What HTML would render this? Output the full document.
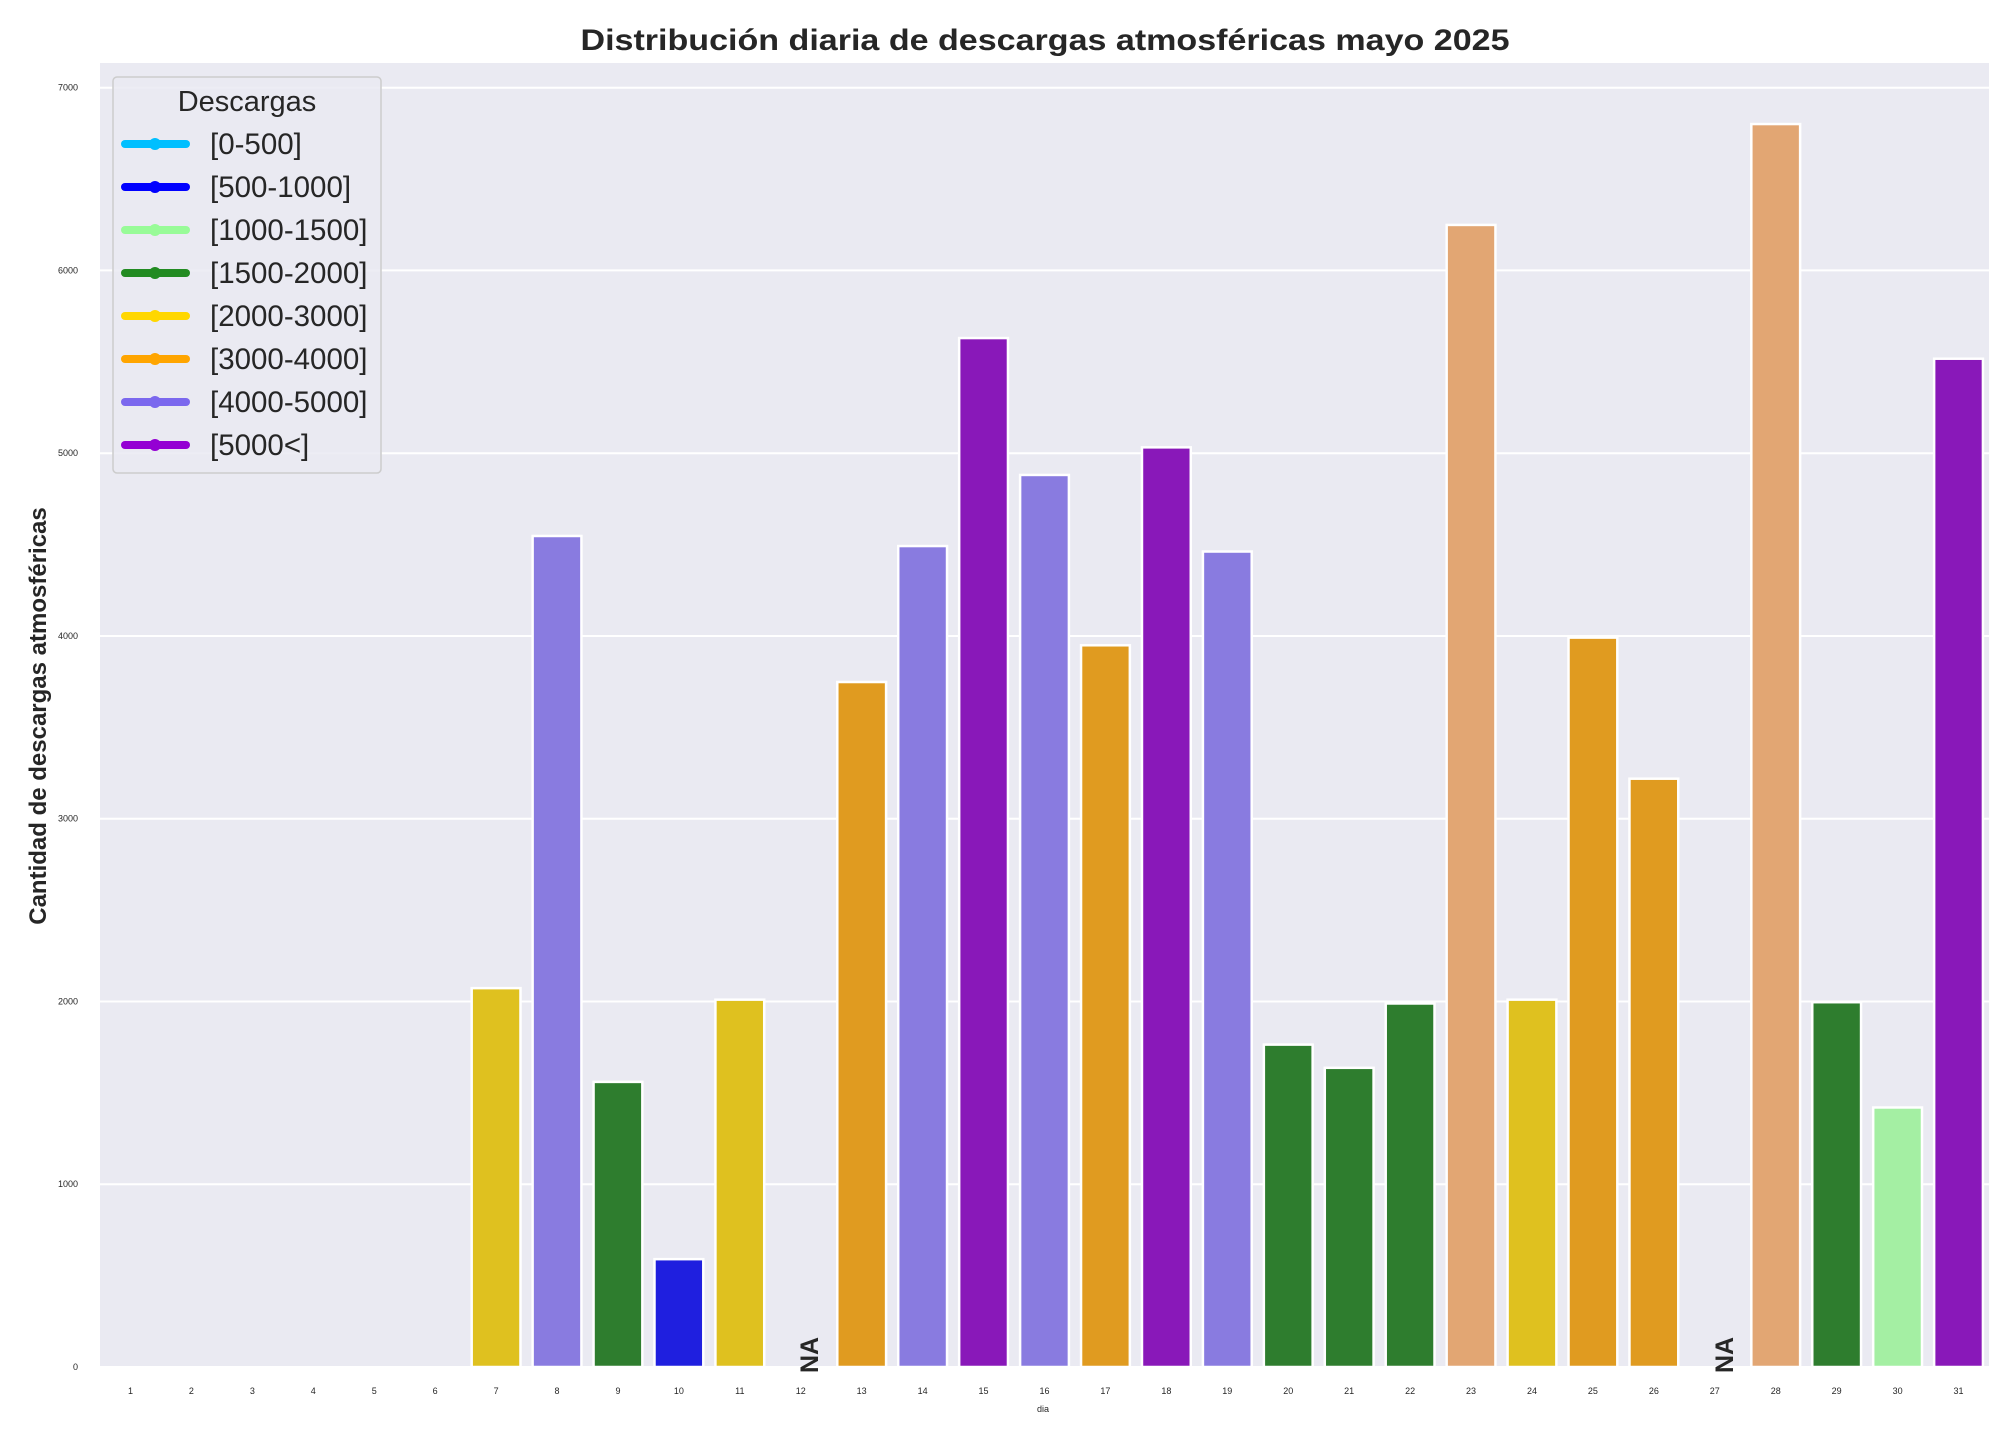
<!DOCTYPE html>
<html><head><meta charset="utf-8"><style>html,body{margin:0;padding:0;background:#fff}svg{display:block}</style></head>
<body>
<svg xmlns="http://www.w3.org/2000/svg" width="2016" height="1440" viewBox="0 0 2016 1440" font-family="Liberation Sans, Arial, sans-serif">
<rect width="2016" height="1440" fill="#fff"/>
<rect x="100" y="63" width="1889" height="1304" fill="#eaeaf2"/>
<g stroke="#fff" stroke-width="2">
<line x1="100" x2="1989" y1="1367" y2="1367"/>
<line x1="100" x2="1989" y1="1184.2" y2="1184.2"/>
<line x1="100" x2="1989" y1="1001.5" y2="1001.5"/>
<line x1="100" x2="1989" y1="818.7" y2="818.7"/>
<line x1="100" x2="1989" y1="636" y2="636"/>
<line x1="100" x2="1989" y1="453.2" y2="453.2"/>
<line x1="100" x2="1989" y1="270.4" y2="270.4"/>
<line x1="100" x2="1989" y1="87.7" y2="87.7"/>
</g>
<g font-size="9" fill="#262626" text-anchor="end">
<text x="78" y="1370">0</text>
<text x="78" y="1187">1000</text>
<text x="78" y="1004.5">2000</text>
<text x="78" y="821.7">3000</text>
<text x="78" y="639">4000</text>
<text x="78" y="456.2">5000</text>
<text x="78" y="273.4">6000</text>
<text x="78" y="90.7">7000</text>
</g>
<g id="bars" stroke="#fff" stroke-width="2.5"></g>
<script>
(function(){
var vals={7:[2073,'#dfc11f'],8:[4547,'#897be0'],9:[1560,'#2e7d2e'],10:[590,'#1f1fdf'],11:[2010,'#dfc11f'],13:[3748,'#e09b20'],14:[4492,'#897be0'],15:[5630,'#8918b9'],16:[4881,'#897be0'],17:[3949,'#e09b20'],18:[5032,'#8918b9'],19:[4462,'#897be0'],20:[1764,'#2e7d2e'],21:[1637,'#2e7d2e'],22:[1989,'#2e7d2e'],23:[6249,'#e2a673'],24:[2010,'#dfc11f'],25:[3991,'#e09b20'],26:[3219,'#e09b20'],28:[6801,'#e2a673'],29:[1996,'#2e7d2e'],30:[1420,'#a4efa3'],31:[5517,'#8918b9']};
var g=document.getElementById('bars'),ns='http://www.w3.org/2000/svg',svg=g.ownerSVGElement;
var step=1889/31;
for(var i=1;i<=31;i++){
 var cx=100+step*(i-0.5);
 if(vals[i]){var h=vals[i][0]*0.18276;var r=document.createElementNS(ns,'rect');
 r.setAttribute('x',cx-24.4);r.setAttribute('width',48.8);r.setAttribute('y',1367-h);r.setAttribute('height',h);r.setAttribute('fill',vals[i][1]);g.appendChild(r);}
 var t=document.createElementNS(ns,'text');t.setAttribute('x',cx);t.setAttribute('y',1394);t.setAttribute('font-size','9');t.setAttribute('fill','#262626');t.setAttribute('text-anchor','middle');t.textContent=i;svg.appendChild(t);
}
})();
</script>
<text transform="translate(818,1373) rotate(-90)" font-size="25" font-weight="bold" fill="#262626">NA</text>
<text transform="translate(1733,1373) rotate(-90)" font-size="25" font-weight="bold" fill="#262626">NA</text>
<text x="1043" y="1412" font-size="9" fill="#262626" text-anchor="middle">dia</text>
<text transform="translate(46,716) rotate(-90)" font-size="24" font-weight="bold" fill="#262626" text-anchor="middle">Cantidad de descargas atmosféricas</text>
<text x="1045" y="50" font-size="30" font-weight="bold" fill="#262626" text-anchor="middle" textLength="929" lengthAdjust="spacingAndGlyphs">Distribución diaria de descargas atmosféricas mayo 2025</text>
<rect x="113" y="77" width="268" height="396" rx="4" fill="#eaeaf2" fill-opacity="0.85" stroke="#cccccc" stroke-width="1.5"/>
<text x="247" y="111" font-size="29" fill="#262626" text-anchor="middle">Descargas</text>
<g font-size="29.5" fill="#262626" stroke-linecap="round">
<g><line x1="125" x2="186" y1="144" y2="144" stroke="#00bfff" stroke-width="8"/><circle cx="155" cy="144" r="6" fill="#00bfff"/><text x="210" y="154">[0-500]</text></g>
<g><line x1="125" x2="186" y1="187" y2="187" stroke="#0000ff" stroke-width="8"/><circle cx="155" cy="187" r="6" fill="#0000ff"/><text x="210" y="197">[500-1000]</text></g>
<g><line x1="125" x2="186" y1="230" y2="230" stroke="#98fb98" stroke-width="8"/><circle cx="155" cy="230" r="6" fill="#98fb98"/><text x="210" y="240">[1000-1500]</text></g>
<g><line x1="125" x2="186" y1="273" y2="273" stroke="#228b22" stroke-width="8"/><circle cx="155" cy="273" r="6" fill="#228b22"/><text x="210" y="283">[1500-2000]</text></g>
<g><line x1="125" x2="186" y1="316" y2="316" stroke="#ffd700" stroke-width="8"/><circle cx="155" cy="316" r="6" fill="#ffd700"/><text x="210" y="326">[2000-3000]</text></g>
<g><line x1="125" x2="186" y1="359" y2="359" stroke="#ffa500" stroke-width="8"/><circle cx="155" cy="359" r="6" fill="#ffa500"/><text x="210" y="369">[3000-4000]</text></g>
<g><line x1="125" x2="186" y1="402" y2="402" stroke="#7b68ee" stroke-width="8"/><circle cx="155" cy="402" r="6" fill="#7b68ee"/><text x="210" y="412">[4000-5000]</text></g>
<g><line x1="125" x2="186" y1="445" y2="445" stroke="#9400d3" stroke-width="8"/><circle cx="155" cy="445" r="6" fill="#9400d3"/><text x="210" y="455">[5000&lt;]</text></g>
</g>
</svg>
</body></html>
